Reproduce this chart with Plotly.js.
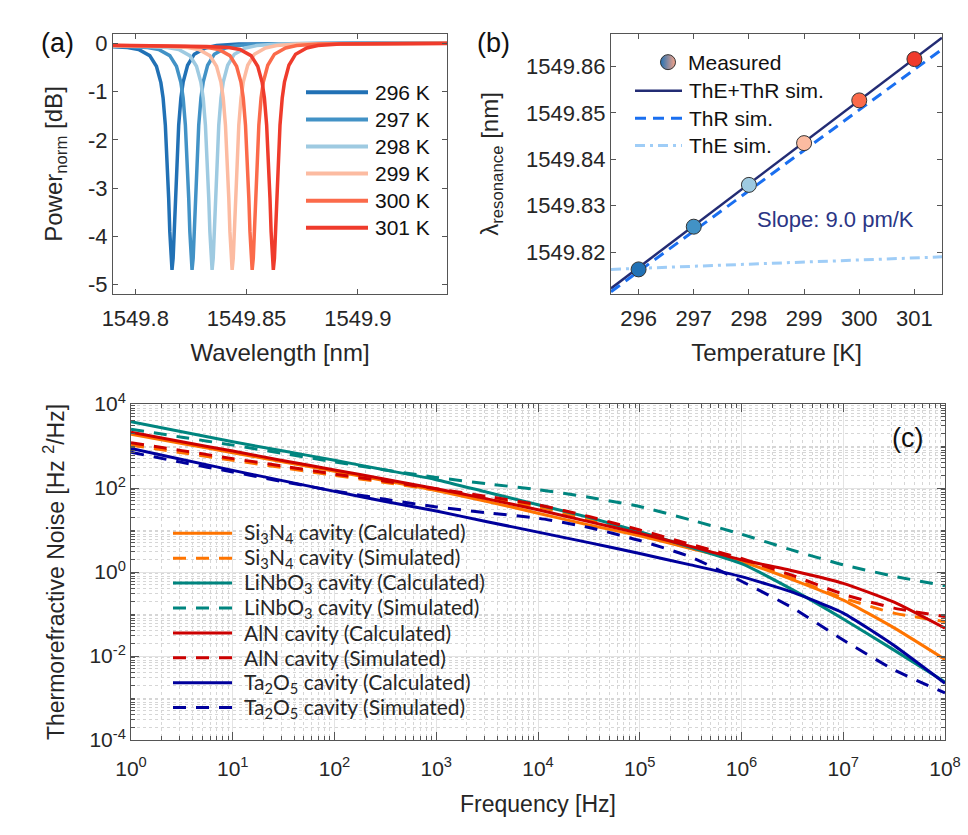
<!DOCTYPE html>
<html><head><meta charset="utf-8">
<script src="https://cdn.plot.ly/plotly-3.0.1.min.js"></script>
<style>html,body{margin:0;padding:0;background:#fff;}#plot{width:968px;height:835px;}</style>
</head><body><div id="plot"></div>
<script>
// ---------- panel (a): resonance dips ----------
const tempLabels = ['296 K', '297 K', '298 K', '299 K', '300 K', '301 K'];
const dipCenterNm = [1549.8165, 1549.8255, 1549.8345, 1549.8435, 1549.8525, 1549.8620];
const dipOffsetNm = [-0.075, -0.05, -0.03, -0.02, -0.015, -0.01, -0.007, -0.005, -0.004, -0.003, -0.002, -0.0015, -0.001, -0.0005, 0,
                     0.0005, 0.001, 0.0015, 0.002, 0.003, 0.004, 0.005, 0.007, 0.01, 0.015, 0.02, 0.03, 0.05, 0.08, 0.13];
const dipPowerDb = [-0.03, -0.04, -0.06, -0.08, -0.12, -0.25, -0.47, -0.81, -1.13, -1.69, -2.6, -3.21, -3.9, -4.46, -4.7,
                    -4.46, -3.9, -3.21, -2.6, -1.69, -1.13, -0.8, -0.45, -0.22, -0.09, -0.04, -0.01, 0.0, 0.01, 0.02];
const aXTickVals = [1549.8, 1549.85, 1549.9];
const aXTickText = ['1549.8', '1549.85', '1549.9'];
const aYTickVals = [-5, -4, -3, -2, -1, 0];
const aYTickText = ['-5', '-4', '-3', '-2', '-1', '0'];

// ---------- panel (b): resonance vs temperature ----------
const measTempK = [296, 297, 298, 299, 300, 301];
const measLambdaNm = [1549.8163, 1549.8255, 1549.8345, 1549.8435, 1549.8527, 1549.8616];
const simTempK = [295.5, 301.5];
const simTotalNm = [1549.8122, 1549.8662];
const simThrNm = [1549.8115, 1549.8637];
const simTheNm = [1549.8163, 1549.8190];
const bSimNames = ['ThE+ThR sim.', 'ThR sim.', 'ThE sim.'];
const bYTickVals = [1549.82, 1549.83, 1549.84, 1549.85, 1549.86];
const bYTickText = ['1549.82', '1549.83', '1549.84', '1549.85', '1549.86'];

// ---------- panel (c): thermorefractive noise ----------
const freqHz = [1, 3.16, 10, 31.6, 100, 316, 1e3, 3160, 1e4, 3.16e4, 1e5, 3.16e5, 1e6, 3.16e6, 1e7, 3.16e7, 1e8];
const si3n4Calc = [1900, 1150, 692, 417, 251, 148, 87.1, 47.9, 25.1, 13.2, 7.24, 3.63, 1.78, 0.661, 0.214, 0.0468, 0.0083];
const si3n4Sim = [1050, 692, 457, 302, 200, 135, 89.1, 57.5, 35.5, 17.8, 7.94, 3.80, 1.91, 0.708, 0.240, 0.105, 0.066];
const linbo3Calc = [3800, 2190, 1260, 759, 457, 269, 158, 79.4, 39.8, 20.0, 9.12, 3.89, 1.58, 0.38, 0.076, 0.0138, 0.0024];
const linbo3Sim = [2510, 1620, 1050, 661, 417, 269, 178, 126, 91.2, 60.3, 36.3, 17.4, 7.94, 3.31, 1.48, 0.79, 0.47];
const alnCalc = [2140, 1260, 759, 447, 269, 162, 95.5, 55.0, 30.2, 15.8, 8.32, 4.07, 1.95, 1.07, 0.537, 0.191, 0.0457];
const alnSim = [1200, 776, 501, 331, 214, 145, 95.5, 63.1, 39.8, 20.9, 10.0, 4.57, 2.09, 0.832, 0.295, 0.138, 0.087];
const ta2o5Calc = [871, 479, 263, 148, 83.2, 47.9, 28.2, 15.8, 8.91, 5.01, 2.75, 1.48, 0.776, 0.331, 0.105, 0.0178, 0.00224];
const ta2o5Sim = [708, 407, 240, 141, 85.1, 53.7, 35.5, 25.7, 19.1, 11.5, 5.62, 2.29, 0.603, 0.141, 0.024, 0.00468, 0.00132];
const cSeriesNames = ['Si<sub>3</sub>N<sub>4</sub> cavity (Calculated)', 'Si<sub>3</sub>N<sub>4</sub> cavity (Simulated)',
  'LiNbO<sub>3</sub> cavity (Calculated)', 'LiNbO<sub>3</sub> cavity (Simulated)',
  'AlN cavity (Calculated)', 'AlN cavity (Simulated)',
  'Ta<sub>2</sub>O<sub>5</sub> cavity (Calculated)', 'Ta<sub>2</sub>O<sub>5</sub> cavity (Simulated)'];
const cSeriesValues = [si3n4Calc, si3n4Sim, linbo3Calc, linbo3Sim, alnCalc, alnSim, ta2o5Calc, ta2o5Sim];
const cXTickVals = [1, 10, 100, 1e3, 1e4, 1e5, 1e6, 1e7, 1e8];
const cXTickText = ['10<sup>0</sup>', '10<sup>1</sup>', '10<sup>2</sup>', '10<sup>3</sup>', '10<sup>4</sup>', '10<sup>5</sup>', '10<sup>6</sup>', '10<sup>7</sup>', '10<sup>8</sup>'];
const cYTickVals = [1e-4, 1e-2, 1, 1e2, 1e4];
const cYTickText = ['10<sup>-4</sup>', '10<sup>-2</sup>', '10<sup>0</sup>', '10<sup>2</sup>', '10<sup>4</sup>'];

// ---------- styles ----------
const tempColors = ['#2171b5', '#4292c6', '#9ecae1', '#fcbba1', '#fb6a4a', '#ef3b2c'];
const bSimColors = ['#232c74', '#1a6ff0', '#9fcdf7'];
const bSimDash = ['solid', '11px,7px', '10px,5px,3px,5px'];
const bSimWidth = [2.5, 3, 3];
const cColors = ['#ff7400', '#ff7400', '#00857f', '#00857f', '#cc0000', '#cc0000', '#00009c', '#00009c'];
const CDASH = '13px,10px';
const FONT = 'Liberation Sans, Arial, sans-serif';
const W = 968, H = 835;
const px = v => v / W;
const py = v => 1 - v / H;

const traces = [];
dipCenterNm.forEach((c, i) => {
  traces.push({
    x: dipOffsetNm.map(o => c + o), y: dipPowerDb, xaxis: 'x', yaxis: 'y',
    mode: 'lines', name: tempLabels[i], showlegend: false,
    line: {color: tempColors[i], width: 3.5}
  });
});

const bSimY = [simTotalNm, simThrNm, simTheNm];
bSimY.forEach((yv, i) => {
  traces.push({x: simTempK, y: yv, xaxis: 'x2', yaxis: 'y2', mode: 'lines', name: bSimNames[i], showlegend: false,
    line: {color: bSimColors[i], width: bSimWidth[i], dash: bSimDash[i]}});
});
traces.push({x: measTempK, y: measLambdaNm, xaxis: 'x2', yaxis: 'y2', mode: 'markers', name: 'Measured', showlegend: false,
  marker: {size: 15, color: tempColors, line: {color: '#333', width: 1}}});
// legend-only entry carrying the two-tone marker
traces.push({x: [null], y: [null], xaxis: 'x2', yaxis: 'y2', mode: 'markers', name: 'Measured', legend: 'legend2',
  marker: {size: 15, color: '#2171b5', gradient: {type: 'horizontal', color: '#f8a488'}, line: {color: '#333', width: 1}}});

cSeriesValues.forEach((vals, i) => {
  traces.push({
    x: freqHz, y: vals, xaxis: 'x3', yaxis: 'y3', mode: 'lines', name: cSeriesNames[i], showlegend: false,
    line: {color: cColors[i], width: 3, shape: 'spline', smoothing: 0.5, dash: (i % 2 === 1) ? CDASH : 'solid'}
  });
});

// manual legend samples (shapes) and labels (annotations)
const shapes = [];
const annotations = [];
const aLegY = [92.3, 119.4, 146.5, 173.6, 200.7, 227.8];
tempLabels.forEach((t, i) => {
  shapes.push({type: 'line', xref: 'paper', yref: 'paper', x0: px(306), x1: px(368), y0: py(aLegY[i]), y1: py(aLegY[i]),
    line: {color: tempColors[i], width: 4}});
  annotations.push({text: t, xref: 'paper', yref: 'paper', x: px(373), y: py(aLegY[i]), xanchor: 'left', yanchor: 'middle',
    showarrow: false, font: {size: 21, color: '#111', family: FONT}});
});
const bLegY = [90.7, 118.3, 145.5];
bSimNames.forEach((t, i) => {
  shapes.push({type: 'line', xref: 'paper', yref: 'paper', x0: px(635), x1: px(682), y0: py(bLegY[i]), y1: py(bLegY[i]),
    line: {color: bSimColors[i], width: bSimWidth[i], dash: bSimDash[i]}});
  annotations.push({text: t, xref: 'paper', yref: 'paper', x: px(687), y: py(bLegY[i]), xanchor: 'left', yanchor: 'middle',
    showarrow: false, font: {size: 21, color: '#111', family: FONT}});
});
const cLegY = [533.3, 558.2, 583.1, 608.0, 632.9, 657.8, 682.7, 707.6];
cSeriesNames.forEach((t, i) => {
  shapes.push({type: 'line', xref: 'paper', yref: 'paper', x0: px(173), x1: px(232), y0: py(cLegY[i]), y1: py(cLegY[i]),
    line: {color: cColors[i], width: 3, dash: (i % 2 === 1) ? CDASH : 'solid'}});
  annotations.push({text: t, xref: 'paper', yref: 'paper', x: px(242), y: py(cLegY[i]), xanchor: 'left', yanchor: 'middle',
    showarrow: false, font: {size: 21, color: '#262626', family: 'Lato, sans-serif'}});
});
annotations.push(
  {text: '(a)', xref: 'paper', yref: 'paper', x: px(57), y: py(43), xanchor: 'center', yanchor: 'middle', showarrow: false, font: {size: 27, color: '#111', family: FONT}},
  {text: '(b)', xref: 'paper', yref: 'paper', x: px(493), y: py(43), xanchor: 'center', yanchor: 'middle', showarrow: false, font: {size: 27, color: '#111', family: FONT}},
  {text: '(c)', xref: 'paper', yref: 'paper', x: px(907), y: py(438), xanchor: 'center', yanchor: 'middle', showarrow: false, font: {size: 27, color: '#111', family: FONT}},
  {text: 'Slope: 9.0 pm/K', xref: 'paper', yref: 'paper', x: px(835), y: py(219), xanchor: 'center', yanchor: 'middle', showarrow: false, font: {size: 22, color: '#2b3585', family: FONT}}
);

const axBase = {showline: true, linecolor: '#555', linewidth: 1, mirror: 'allticks', ticks: 'inside', ticklen: 5,
  tickcolor: '#555', showgrid: false, zeroline: false, tickfont: {size: 22, color: '#262626', family: FONT}};
const ax = extra => Object.assign({}, JSON.parse(JSON.stringify(axBase)), extra);
const tfont = s => ({size: s, color: '#262626', family: FONT});

const layout = {
  width: W, height: H, margin: {l: 0, r: 0, t: 0, b: 0}, paper_bgcolor: '#fff', plot_bgcolor: '#fff',
  font: {family: FONT, color: '#262626'}, showlegend: true,
  xaxis: ax({domain: [px(113), px(447)], anchor: 'y', range: [1549.79, 1549.94], tickmode: 'array',
    tickvals: aXTickVals, ticktext: aXTickText, ticklabelstandoff: 5, title: {text: 'Wavelength [nm]', standoff: 13, font: tfont(24)}}),
  yaxis: ax({domain: [py(294), py(34)], anchor: 'x', range: [-5.2, 0.2], tickmode: 'array',
    tickvals: aYTickVals, ticktext: aYTickText, title: {text: 'Power<sub>norm</sub> [dB]', standoff: 18, font: tfont(24)}}),
  xaxis2: ax({domain: [px(611), px(942)], anchor: 'y2', range: [295.5, 301.5], dtick: 1, tick0: 296, ticklabelstandoff: 5,
    title: {text: 'Temperature [K]', standoff: 13, font: tfont(24)}}),
  yaxis2: ax({domain: [py(294), py(34)], anchor: 'x2', range: [1549.811, 1549.867], tickmode: 'array',
    tickvals: bYTickVals, ticktext: bYTickText, title: {text: '\u03bb<sub>resonance</sub> [nm]', standoff: 20, font: tfont(24)}}),
  xaxis3: ax({domain: [px(131), px(945)], anchor: 'y3', type: 'log', range: [0, 8], tickmode: 'array',
    tickvals: cXTickVals, ticktext: cXTickText, ticklen: 8, ticklabelstandoff: 10, tickfont: {size: 21, color: '#262626', family: FONT},
    showgrid: true, gridcolor: '#e3e3e3', gridwidth: 1,
    minor: {tickmode: 'linear', dtick: 'D1', ticks: 'inside', ticklen: 4, tickcolor: '#555', showgrid: true, gridcolor: '#d6d6d6', griddash: 'dot', gridwidth: 1},
    title: {text: 'Frequency [Hz]', standoff: 16, font: tfont(23)}}),
  yaxis3: ax({domain: [py(740), py(404)], anchor: 'x3', type: 'log', range: [-4, 4], tickmode: 'array',
    tickvals: cYTickVals, ticktext: cYTickText, ticklen: 8, tickfont: {size: 21, color: '#262626', family: FONT},
    showgrid: true, gridcolor: '#e3e3e3', gridwidth: 1,
    minor: {tickmode: 'linear', dtick: 'D1', ticks: 'inside', ticklen: 4, tickcolor: '#555', showgrid: true, gridcolor: '#d6d6d6', griddash: 'dot', gridwidth: 1},
    title: {text: 'Thermorefractive Noise [Hz <sup>2</sup>/Hz]', standoff: 18, font: tfont(23)}}),
  legend2: {x: px(648), y: py(42), xanchor: 'left', yanchor: 'top', bgcolor: 'rgba(0,0,0,0)', borderwidth: 0,
    font: {size: 21, color: '#111', family: FONT}, tracegroupgap: 0},
  shapes: shapes,
  annotations: annotations
};

Plotly.newPlot('plot', traces, layout, {displayModeBar: false, staticPlot: true});
</script>
</body></html>
